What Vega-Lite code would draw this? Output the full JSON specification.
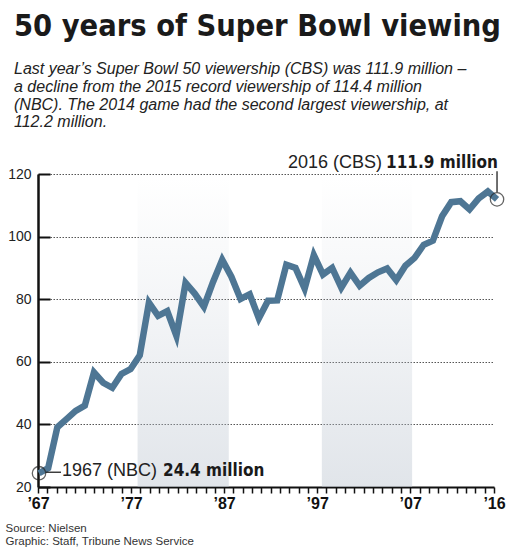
{
  "$schema": "https://vega.github.io/schema/vega-lite/v6.json",
  "width": 456,
  "height": 313,
  "autosize": {"type": "none"},
  "padding": {"left": 38, "top": 174, "right": 17, "bottom": 62},
  "background": "white",
  "title": {
    "text": "50 years of Super Bowl viewing",
    "subtitle": [
      "Last year’s Super Bowl 50 viewership (CBS) was 111.9 million –",
      "a decline from the 2015 record viewership of 114.4 million",
      "(NBC). The 2014 game had the second largest viewership, at",
      "112.2 million."
    ],
    "anchor": "start",
    "frame": "group",
    "dx": -24,
    "offset": 24,
    "font": "DejaVu Sans Condensed, Roboto, sans-serif",
    "fontSize": 30.5,
    "fontWeight": "bold",
    "color": "#1a1a1a",
    "subtitleFont": "Liberation Sans",
    "subtitleFontSize": 16,
    "subtitleFontStyle": "italic",
    "subtitleColor": "#222222",
    "subtitleLineHeight": 17.8,
    "subtitlePadding": 18
  },
  "datasets": {
    "viewers": [
      {"game": 0, "millions": 24.4}, {"game": 1, "millions": 26.0}, {"game": 2, "millions": 39.1},
      {"game": 3, "millions": 41.7}, {"game": 4, "millions": 44.3}, {"game": 5, "millions": 46.0},
      {"game": 6, "millions": 56.6}, {"game": 7, "millions": 53.3}, {"game": 8, "millions": 51.7},
      {"game": 9, "millions": 56.1}, {"game": 10, "millions": 57.7}, {"game": 11, "millions": 62.1},
      {"game": 12, "millions": 78.9}, {"game": 13, "millions": 74.7}, {"game": 14, "millions": 76.2},
      {"game": 15, "millions": 68.3}, {"game": 16, "millions": 85.2}, {"game": 17, "millions": 81.8},
      {"game": 18, "millions": 77.6}, {"game": 19, "millions": 85.5}, {"game": 20, "millions": 92.6},
      {"game": 21, "millions": 87.2}, {"game": 22, "millions": 80.1}, {"game": 23, "millions": 81.6},
      {"game": 24, "millions": 73.9}, {"game": 25, "millions": 79.5}, {"game": 26, "millions": 79.6},
      {"game": 27, "millions": 91.0}, {"game": 28, "millions": 90.0}, {"game": 29, "millions": 83.4},
      {"game": 30, "millions": 94.1}, {"game": 31, "millions": 87.9}, {"game": 32, "millions": 90.0},
      {"game": 33, "millions": 83.7}, {"game": 34, "millions": 88.5}, {"game": 35, "millions": 84.3},
      {"game": 36, "millions": 86.8}, {"game": 37, "millions": 88.6}, {"game": 38, "millions": 89.8},
      {"game": 39, "millions": 86.1}, {"game": 40, "millions": 90.7}, {"game": 41, "millions": 93.2},
      {"game": 42, "millions": 97.4}, {"game": 43, "millions": 98.7}, {"game": 44, "millions": 106.5},
      {"game": 45, "millions": 111.0}, {"game": 46, "millions": 111.3}, {"game": 47, "millions": 108.7},
      {"game": 48, "millions": 112.2}, {"game": 49, "millions": 114.4}, {"game": 50, "millions": 111.9}
    ],
    "bands": [
      {"start": 1977.7, "end": 1987.5},
      {"start": 1997.5, "end": 2007.2}
    ],
    "notes": [
      {"game": 0, "millions": 24.4, "network": "1967 (NBC)", "label": "24.4 million"},
      {"game": 50, "millions": 111.9, "network": "2016 (CBS)", "label": "111.9 million"}
    ]
  },
  "layer": [
    {
      "data": {"name": "bands"},
      "mark": {
        "type": "rect",
        "fill": {
          "gradient": "linear",
          "x1": 0, "y1": 1, "x2": 0, "y2": 0,
          "stops": [
            {"offset": 0, "color": "rgba(188,197,208,0.45)"},
            {"offset": 0.6, "color": "rgba(188,197,208,0.16)"},
            {"offset": 1, "color": "rgba(188,197,208,0)"}
          ]
        }
      },
      "encoding": {
        "x": {
          "field": "start",
          "type": "quantitative",
          "scale": {"domain": [1967, 2016], "nice": false, "zero": false},
          "axis": {
            "values": [1967, 1968, 1969, 1970, 1971, 1972, 1973, 1974, 1975, 1976, 1977, 1978, 1979, 1980, 1981, 1982, 1983, 1984, 1985, 1986, 1987, 1988, 1989, 1990, 1991, 1992, 1993, 1994, 1995, 1996, 1997, 1998, 1999, 2000, 2001, 2002, 2003, 2004, 2005, 2006, 2007, 2008, 2009, 2010, 2011, 2012, 2013, 2014, 2015, 2016],
            "labelExpr": "indexof([1967, 1977, 1987, 1997, 2007, 2016], datum.value) >= 0 ? '’' + substring(toString(datum.value), 2) : ''",
            "grid": false,
            "tickSize": 6,
            "tickWidth": 1.5,
            "tickColor": "#111111",
            "domainColor": "#111111",
            "domainWidth": 2,
            "labelFont": "Liberation Sans",
            "labelFontWeight": "bold",
            "labelFontSize": 16,
            "labelColor": "#111111",
            "labelPadding": 2,
            "labelFlush": false,
            "labelOverlap": false,
            "title": ["Source: Nielsen", "Graphic: Staff, Tribune News Service"],
            "titleAnchor": "start",
            "titleAlign": "left",
            "titleBaseline": "alphabetic",
            "titleX": -33,
            "titleY": 44,
            "titleFont": "Liberation Sans",
            "titleFontSize": 11.5,
            "titleFontWeight": "normal",
            "titleColor": "#333333",
            "titleLineHeight": 13
          }
        },
        "x2": {"field": "end"},
        "y": {"datum": 20, "type": "quantitative", "scale": {"domain": [20, 120], "nice": false}},
        "y2": {"datum": 119}
      }
    },
    {
      "data": {"name": "viewers"},
      "mark": {"type": "line", "strokeWidth": 6.5, "color": "#4e7694", "strokeJoin": "miter"},
      "encoding": {
        "x": {"field": "game", "type": "quantitative", "scale": {"domain": [-0.11, 49.67], "nice": false, "zero": false}, "axis": null},
        "y": {
          "field": "millions",
          "type": "quantitative",
          "scale": {"domain": [20, 120], "nice": false},
          "axis": {
            "values": [20, 40, 60, 80, 100, 120],
            "grid": true,
            "gridDash": [1.5, 1.5],
            "gridColor": "#555555",
            "gridWidth": 1,
            "tickSize": -12,
            "tickWidth": 2,
            "tickColor": "#111111",
            "domainColor": "#111111",
            "domainWidth": 2.5,
            "labelFont": "Liberation Sans",
            "labelFontSize": 14,
            "labelColor": "#222222",
            "labelPadding": 19,
            "title": null
          }
        }
      }
    },
    {
      "data": {"name": "notes"},
      "mark": {"type": "point", "shape": "circle", "size": 180, "filled": false, "stroke": "#222222", "strokeWidth": 1.3},
      "encoding": {
        "x": {"field": "game", "type": "quantitative", "scale": {"domain": [-0.11, 49.67], "nice": false, "zero": false}, "axis": null},
        "y": {"field": "millions", "type": "quantitative"}
      }
    },
    {
      "data": {"name": "notes"},
      "transform": [{"filter": "datum.game == 0"}],
      "mark": {"type": "rule", "stroke": "#222222", "strokeWidth": 1.3, "xOffset": 7, "x2Offset": 22, "yOffset": -1, "y2Offset": -1},
      "encoding": {
        "x": {"field": "game", "type": "quantitative", "scale": {"domain": [-0.11, 49.67], "nice": false, "zero": false}, "axis": null},
        "x2": {"field": "game"},
        "y": {"field": "millions", "type": "quantitative"},
        "y2": {"field": "millions"}
      }
    },
    {
      "data": {"name": "notes"},
      "transform": [{"filter": "datum.game == 50"}],
      "mark": {"type": "rule", "stroke": "#222222", "strokeWidth": 1.3, "yOffset": -28, "y2Offset": -7},
      "encoding": {
        "x": {"field": "game", "type": "quantitative", "scale": {"domain": [-0.11, 49.67], "nice": false, "zero": false}, "axis": null},
        "y": {"field": "millions", "type": "quantitative"},
        "y2": {"field": "millions"}
      }
    },
    {
      "data": {"name": "notes"},
      "transform": [{"filter": "datum.game == 0"}],
      "mark": {"type": "text", "align": "left", "baseline": "alphabetic", "dx": 23, "dy": 3, "font": "Liberation Sans", "fontSize": 18, "color": "#222222"},
      "encoding": {
        "x": {"field": "game", "type": "quantitative", "scale": {"domain": [-0.11, 49.67], "nice": false, "zero": false}, "axis": null},
        "y": {"field": "millions", "type": "quantitative"},
        "text": {"field": "network"}
      }
    },
    {
      "data": {"name": "notes"},
      "transform": [{"filter": "datum.game == 0"}],
      "mark": {"type": "text", "align": "left", "baseline": "alphabetic", "dx": 124, "dy": 3, "font": "DejaVu Sans Condensed, Roboto, sans-serif", "fontWeight": "bold", "fontSize": 17, "color": "#1a1a1a"},
      "encoding": {
        "x": {"field": "game", "type": "quantitative", "scale": {"domain": [-0.11, 49.67], "nice": false, "zero": false}, "axis": null},
        "y": {"field": "millions", "type": "quantitative"},
        "text": {"field": "label"}
      }
    },
    {
      "data": {"name": "notes"},
      "transform": [{"filter": "datum.game == 50"}],
      "mark": {"type": "text", "align": "right", "baseline": "alphabetic", "dx": -115, "dy": -31, "font": "Liberation Sans", "fontSize": 18, "color": "#222222"},
      "encoding": {
        "x": {"field": "game", "type": "quantitative", "scale": {"domain": [-0.11, 49.67], "nice": false, "zero": false}, "axis": null},
        "y": {"field": "millions", "type": "quantitative"},
        "text": {"field": "network"}
      }
    },
    {
      "data": {"name": "notes"},
      "transform": [{"filter": "datum.game == 50"}],
      "mark": {"type": "text", "align": "right", "baseline": "alphabetic", "dx": 1, "dy": -31, "font": "DejaVu Sans Condensed, Roboto, sans-serif", "fontWeight": "bold", "fontSize": 17, "color": "#1a1a1a"},
      "encoding": {
        "x": {"field": "game", "type": "quantitative", "scale": {"domain": [-0.11, 49.67], "nice": false, "zero": false}, "axis": null},
        "y": {"field": "millions", "type": "quantitative"},
        "text": {"field": "label"}
      }
    }
  ],
  "resolve": {"scale": {"x": "independent"}},
  "config": {"view": {"stroke": null}, "font": "Liberation Sans"}
}
